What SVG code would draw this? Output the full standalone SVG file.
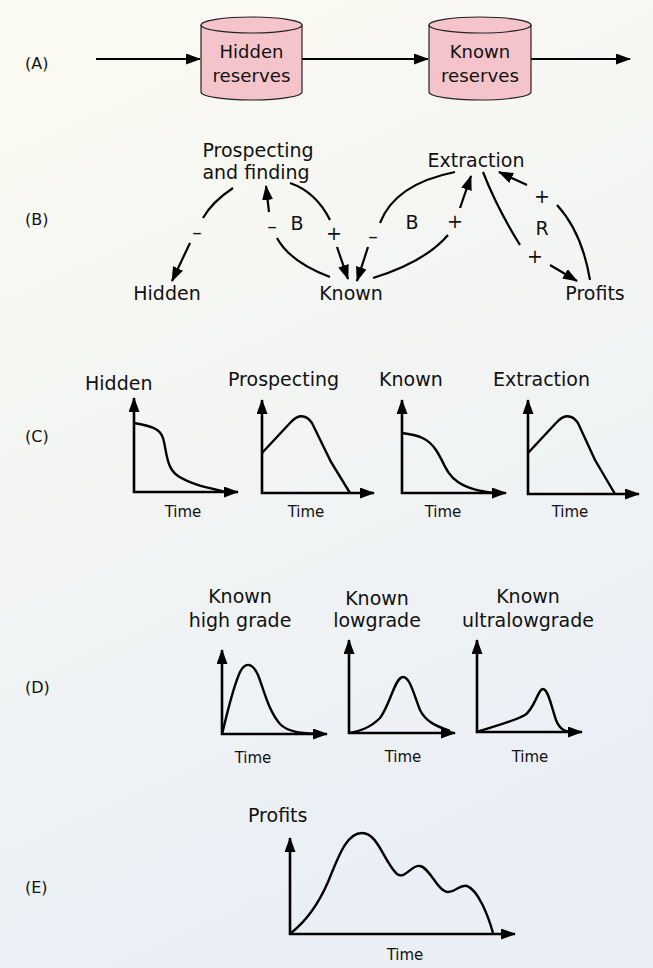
<svg xmlns="http://www.w3.org/2000/svg" width="653" height="968" viewBox="0 0 653 968">
<defs>
<linearGradient id="bg" x1="0" y1="0" x2="0.3" y2="1">
<stop offset="0" stop-color="#fcfbf1"/>
<stop offset="1" stop-color="#eaeff6"/>
</linearGradient>
<marker id="ah" viewBox="0 0 15 11" refX="14" refY="5.5" markerWidth="15" markerHeight="11" markerUnits="userSpaceOnUse" orient="auto-start-reverse"><path d="M0,0L15,5.5L0,11z" fill="#000"/></marker>
</defs>
<style>
text{font-family:"DejaVu Sans","Liberation Sans",sans-serif;fill:#111;}
.sec{font-size:16px;}
.lab{font-size:19px;text-anchor:middle;}
.labs{font-size:19px;}
.tm{font-size:15px;text-anchor:middle;}
.cyl{fill:#f5c4ca;stroke:#222;stroke-width:1.2;}
.ln{fill:none;stroke:#000;stroke-width:2.2;}
.ar{fill:none;stroke:#000;stroke-width:2.2;marker-end:url(#ah);}
.ax{fill:none;stroke:#000;stroke-width:2.6;marker-start:url(#ah);marker-end:url(#ah);}
.cv{fill:none;stroke:#000;stroke-width:2.4;}
</style>
<rect width="653" height="968" fill="url(#bg)"/>

<g id="sectionLabels">
<text class="sec" x="25" y="69">(A)</text>
<text class="sec" x="25" y="225">(B)</text>
<text class="sec" x="25" y="442">(C)</text>
<text class="sec" x="25" y="693">(D)</text>
<text class="sec" x="25" y="893">(E)</text>
</g>

<g id="connectorsA">
<path class="ar" d="M96,59 H200"/>
<path class="ar" d="M302,59 H428"/>
<path class="ar" d="M531,59 H630"/>
</g>

<g id="hiddenReserves">
<path class="cyl" d="M201,25 V92 A50.5,8 0 0 0 302,92 V25"/>
<ellipse class="cyl" cx="251.5" cy="25" rx="50.5" ry="8"/>
<text class="lab" x="251.5" y="58" font-size="18" style="font-size:18px">Hidden</text>
<text class="lab" x="251.5" y="82" style="font-size:18px" textLength="78" lengthAdjust="spacingAndGlyphs">reserves</text>
</g>

<g id="knownReserves">
<path class="cyl" d="M429,25 V92 A51,8 0 0 0 531,92 V25"/>
<ellipse class="cyl" cx="480" cy="25" rx="51" ry="8"/>
<text class="lab" x="480" y="58" style="font-size:18px">Known</text>
<text class="lab" x="480" y="82" style="font-size:18px" textLength="78" lengthAdjust="spacingAndGlyphs">reserves</text>
</g>

<g id="nodeProspecting"><text class="lab" x="258" y="157">Prospecting</text><text class="lab" x="256" y="179">and finding</text></g>
<g id="nodeExtraction"><text class="lab" x="476" y="167">Extraction</text></g>
<g id="nodeHidden"><text class="lab" x="167" y="300">Hidden</text></g>
<g id="nodeKnown"><text class="lab" x="351" y="300">Known</text></g>
<g id="nodeProfits"><text class="lab" x="595" y="300">Profits</text></g>

<g id="connectorsB">
<path class="ln" d="M233,188 Q212,202 203,218"/>
<path class="ar" d="M190,243 L172,281"/>
<path class="ln" d="M330,277 Q290,262 277,238"/>
<path class="ar" d="M269,212 L266,186"/>
<path class="ln" d="M290,183 Q316,192 330,220"/>
<path class="ar" d="M337,247 L348,279"/>
<path class="ln" d="M380,223 Q395,184 455,172"/>
<path class="ar" d="M368,247 L357,281"/>
<path class="ln" d="M373,278 Q425,262 448,235"/>
<path class="ar" d="M460,208 L471,176"/>
<path class="ln" d="M483,172 Q497,208 520,245"/>
<path class="ar" d="M550,265 L577,281"/>
<path class="ln" d="M590,280 Q582,232 557,205"/>
<path class="ar" d="M527,185 L499,172"/>
</g>

<g id="loopLabels">
<text class="lab" x="197" y="239">–</text>
<text class="lab" x="272" y="233">–</text>
<text class="lab" x="297" y="230">B</text>
<text class="lab" x="334" y="240">+</text>
<text class="lab" x="373" y="243">–</text>
<text class="lab" x="412" y="229">B</text>
<text class="lab" x="455" y="228">+</text>
<text class="lab" x="542" y="235">R</text>
<text class="lab" x="535" y="263">+</text>
<text class="lab" x="542" y="203">+</text>
</g>

<g id="graphHidden">
<text class="labs" x="85" y="390">Hidden</text>
<path class="ax" d="M134,398 V492 H238"/>
<path class="cv" d="M134,423 C150,426 160,428 163,438 C167,452 166,468 178,476 C192,485 210,488 226,492"/>
<text class="tm" x="183" y="517">Time</text>
</g>
<g id="graphProspecting">
<text class="labs" x="228" y="386">Prospecting</text>
<path class="ax" d="M262,400 V493 H374"/>
<path class="cv" d="M262,453 L290,423 C297,415 305,413 312,423 L331,462 L350,493"/>
<text class="tm" x="306" y="517">Time</text>
</g>
<g id="graphKnown">
<text class="labs" x="379" y="386">Known</text>
<path class="ax" d="M402,400 V493 H506"/>
<path class="cv" d="M402,433 C418,435 428,438 436,450 C444,462 446,474 458,482 C468,489 480,491 494,493"/>
<text class="tm" x="443" y="517">Time</text>
</g>
<g id="graphExtraction">
<text class="labs" x="493" y="386">Extraction</text>
<path class="ax" d="M528,400 V494 H639"/>
<path class="cv" d="M528,453 L556,423 C563,415 571,413 578,423 L595,460 L615,494"/>
<text class="tm" x="570" y="517">Time</text>
</g>

<g id="graphHighGrade">
<text class="lab" x="240" y="603">Known</text>
<text class="lab" x="240" y="627">high grade</text>
<path class="ax" d="M222,650 V734 H327"/>
<path class="cv" d="M222,734 C227,715 232,690 240,672 C245,662 252,662 258,675 C264,690 268,710 280,724 C288,732 300,733 316,734"/>
<text class="tm" x="253" y="763">Time</text>
</g>
<g id="graphLowGrade">
<text class="lab" x="377" y="605">Known</text>
<text class="lab" x="377" y="627">lowgrade</text>
<path class="ax" d="M349,640 V733 H455"/>
<path class="cv" d="M349,733 C360,731 370,728 380,718 C390,705 395,677 403,677 C410,677 414,695 420,710 C426,722 436,726 450,731"/>
<text class="tm" x="403" y="762">Time</text>
</g>
<g id="graphUltraLowGrade">
<text class="lab" x="528" y="603">Known</text>
<text class="lab" x="528" y="627">ultralowgrade</text>
<path class="ax" d="M477,640 V732 H582"/>
<path class="cv" d="M477,732 C495,726 512,722 525,715 C535,708 538,689 543,689 C548,689 551,705 556,720 C560,730 565,732 575,732"/>
<text class="tm" x="530" y="762">Time</text>
</g>

<g id="graphProfits">
<text class="labs" x="248" y="822">Profits</text>
<path class="ax" d="M290,838 V934 H515"/>
<path class="cv" d="M291,933 C305,922 318,905 328,882 C338,858 346,833 362,833 C378,833 384,862 397,874 C405,880 412,864 420,866 C430,868 438,892 448,892 C456,892 460,884 467,886 C478,890 488,915 493,933"/>
<text class="tm" x="405" y="960">Time</text>
</g>
</svg>
